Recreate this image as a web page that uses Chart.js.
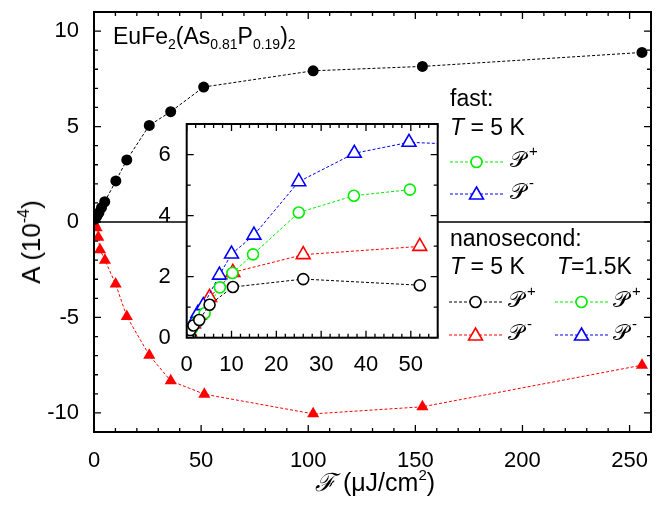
<!DOCTYPE html>
<html>
<head>
<meta charset="utf-8">
<script src="https://cdn.jsdelivr.net/npm/chart.js@4.4.1/dist/chart.umd.min.js"></script>
<style>
  body { margin: 0; background: #fff; }
  #wrap { position: relative; width: 658px; height: 511px; overflow: hidden;
          font-family: "Liberation Sans", Arial, sans-serif; color: #000; }
  canvas { position: absolute; }
  #main { left: 0; top: 0; }
  #inset { left: 130px; top: 110px; }
  .t { position: absolute; white-space: nowrap; line-height: 1; }
  .sub { font-size: 14px; position: relative; top: 5px; }
  .scr { font-family: "DejaVu Serif", "DejaVu Sans", serif; font-size: 22px; }
  .sup { font-size: 15px; position: relative; top: -11px; margin-left: 3px; }
</style>
</head>
<body>
<div id="wrap">
  <canvas id="main" width="658" height="511"></canvas>
  <canvas id="inset" width="320" height="280"></canvas>

  <div class="t" style="left:113px; top:25px; font-size:23px;">EuFe<span class="sub">2</span>(As<span class="sub">0.81</span>P<span class="sub">0.19</span>)<span class="sub">2</span></div>

  <div class="t" style="left:450px; top:87px; font-size:23px;">fast:</div>
  <div class="t" style="left:450px; top:116px; font-size:23px;"><i>T</i> = 5 K</div>
  <div class="t" style="left:510px; top:149px;"><span class="scr">𝒫</span><span class="sup">+</span></div>
  <div class="t" style="left:510px; top:181px;"><span class="scr">𝒫</span><span class="sup">-</span></div>

  <div class="t" style="left:450px; top:227px; font-size:23px;">nanosecond:</div>
  <div class="t" style="left:450px; top:255px; font-size:23px;"><i>T</i> = 5 K</div>
  <div class="t" style="left:557px; top:255px; font-size:23px;"><i>T</i>=1.5K</div>
  <div class="t" style="left:508px; top:289px;"><span class="scr">𝒫</span><span class="sup">+</span></div>
  <div class="t" style="left:508px; top:322px;"><span class="scr">𝒫</span><span class="sup">-</span></div>
  <div class="t" style="left:613px; top:289px;"><span class="scr">𝒫</span><span class="sup">+</span></div>
  <div class="t" style="left:613px; top:322px;"><span class="scr">𝒫</span><span class="sup">-</span></div>

  <div class="t" style="left:375px; top:470px; font-size:25px; transform:translateX(-50%);"><span style="font-family:'DejaVu Serif',serif;font-style:italic;">ℱ</span> (μJ/cm<span style="font-size:15px;position:relative;top:-11px;">2</span>)</div>
  <div class="t" style="left:31px; top:242px; font-size:26px; transform:translate(-50%,-50%) rotate(-90deg);">A (10<span style="font-size:16px;position:relative;top:-11px;">-4</span>)</div>
</div>

<script>
// Main panel: amplitude A (10^-4) versus fluence (uJ/cm^2)
const mainPosX = [0.5, 1.4, 2.3, 3.5, 5.0, 10.2, 15.3, 25.8, 35.8, 51.2, 102.3, 153.3, 255.8];
const mainPosY = [0.15, 0.31, 0.49, 0.75, 1.06, 2.15, 3.25, 5.06, 5.78, 7.07, 7.92, 8.15, 8.88];
const mainNegX = [0.3, 1.2, 2.0, 2.8, 5.1, 10.1, 15.3, 25.8, 35.8, 51.5, 102.3, 153.3, 255.8];
const mainNegY = [-0.1, -0.3, -0.8, -1.45, -2.0, -3.25, -4.95, -6.98, -8.32, -9.02, -10.05, -9.68, -7.5];
const mainXTicks = [0, 50, 100, 150, 200, 250];
const mainYTicks = [-10, -5, 0, 5, 10];

// Inset: low-fluence region
const ns5PlusX  = [0.3, 0.8, 1.5, 2.8, 5.1, 10.3, 26.0, 52.0];
const ns5PlusY  = [0.1, 0.25, 0.4, 0.58, 1.08, 1.66, 1.92, 1.72];
const ns5MinusX = [0.2, 0.6, 1.5, 2.8, 5.1, 10.3, 26.0, 52.0];
const ns5MinusY = [0.02, 0.2, 0.45, 0.74, 1.32, 2.14, 2.72, 2.99];
const ns15PlusX  = [0.5, 1.2, 2.5, 4.0, 7.4, 10.2, 14.8, 25.0, 37.3, 49.8];
const ns15PlusY  = [0.12, 0.3, 0.55, 0.8, 1.65, 2.12, 2.73, 4.1, 4.65, 4.85];
const ns15MinusX = [0.5, 1.5, 2.5, 3.7, 7.3, 10.0, 15.0, 25.0, 37.4, 49.6, 100];
const ns15MinusY = [0.15, 0.5, 0.8, 1.05, 2.05, 2.74, 3.36, 5.11, 6.04, 6.4, 6.1];
const insetXTicks = [0, 10, 20, 30, 40, 50];
const insetYTicks = [0, 2, 4, 6];

const pts = (xs, ys) => xs.map((x, i) => ({ x, y: ys[i] }));
const FONT = { family: '"Liberation Sans", Arial, sans-serif', size: 22 };

// Frame with inward major/minor ticks on all four sides
const frameTicks = {
  id: 'frameTicks',
  afterDraw(chart, args, o) {
    const { ctx, chartArea: a, scales: { x, y } } = chart;
    ctx.save();
    ctx.strokeStyle = '#000';
    ctx.lineWidth = 1.3;
    const run = (scale, step, major, horiz) => {
      const i0 = Math.ceil(scale.min / step - 1e-9), i1 = Math.floor(scale.max / step + 1e-9);
      for (let i = i0; i <= i1; i++) {
        const v = i * step;
        const len = Math.abs(v / major - Math.round(v / major)) < 1e-6 ? o.majorLen : o.minorLen;
        const p = scale.getPixelForValue(v);
        ctx.beginPath();
        if (horiz) {
          ctx.moveTo(p, a.bottom); ctx.lineTo(p, a.bottom - len);
          ctx.moveTo(p, a.top); ctx.lineTo(p, a.top + len);
        } else {
          ctx.moveTo(a.left, p); ctx.lineTo(a.left + len, p);
          ctx.moveTo(a.right, p); ctx.lineTo(a.right - len, p);
        }
        ctx.stroke();
      }
    };
    run(x, o.xMinor, o.xMajor, true);
    run(y, o.yMinor, o.yMajor, false);
    ctx.lineWidth = o.frameWidth;
    ctx.strokeRect(a.left, a.top, a.right - a.left, a.bottom - a.top);
    ctx.restore();
  }
};

// Horizontal reference line at A = 0
const zeroLine = {
  id: 'zeroLine',
  beforeDatasetsDraw(chart) {
    const { ctx, chartArea: a, scales: { y } } = chart;
    const p = y.getPixelForValue(0);
    ctx.save();
    ctx.strokeStyle = '#000'; ctx.lineWidth = 1.6;
    ctx.beginPath(); ctx.moveTo(a.left, p); ctx.lineTo(a.right, p); ctx.stroke();
    ctx.restore();
  }
};

// Legend key samples: dashed segment with an open marker
function drawMarker(ctx, style, cx, cy, r, color) {
  ctx.save();
  ctx.setLineDash([]);
  ctx.strokeStyle = color; ctx.fillStyle = '#fff'; ctx.lineWidth = 1.6;
  ctx.beginPath();
  if (style === 'circle') {
    ctx.arc(cx, cy, r, 0, Math.PI * 2);
  } else {
    const s = Math.sqrt(3) / 2;
    ctx.moveTo(cx, cy - r); ctx.lineTo(cx + r * s, cy + r / 2); ctx.lineTo(cx - r * s, cy + r / 2); ctx.closePath();
  }
  ctx.fill(); ctx.stroke();
  ctx.restore();
}
const legendKeys = {
  id: 'legendKeys',
  afterDraw(chart, args, o) {
    const ctx = chart.ctx;
    o.items.forEach(it => {
      ctx.save();
      ctx.strokeStyle = it.color; ctx.lineWidth = 1; ctx.setLineDash([3, 2]);
      ctx.beginPath(); ctx.moveTo(it.x1, it.y); ctx.lineTo(it.x2, it.y); ctx.stroke();
      ctx.restore();
      drawMarker(ctx, it.style, (it.x1 + it.x2) / 2, it.y + (it.style === 'circle' ? 0 : 1), it.style === 'circle' ? 5.5 : 8, it.color);
    });
  }
};

// White plotting area for the inset
const insetBg = {
  id: 'insetBg',
  beforeDraw(chart) {
    const { ctx, chartArea: a } = chart;
    ctx.save(); ctx.fillStyle = '#fff';
    ctx.fillRect(a.left, a.top, a.right - a.left, a.bottom - a.top);
    ctx.restore();
  }
};

// Fixed axis sizes, no extra label padding around the plotting area
const fixX = h => s => { s.height = h; s.paddingLeft = 0; s.paddingRight = 0; };
const fixY = w => s => { s.width = w; s.paddingTop = 0; s.paddingBottom = 0; };

const dashed = { showLine: true, borderWidth: 1, borderDash: [3, 2] };

new Chart(document.getElementById('main'), {
  type: 'scatter',
  data: {
    datasets: [
      { ...dashed, data: pts(mainPosX, mainPosY), borderColor: '#000', backgroundColor: '#000',
        pointStyle: 'circle', pointRadius: 5.5, pointBorderWidth: 0 },
      { ...dashed, data: pts(mainNegX, mainNegY), borderColor: '#ff0000', backgroundColor: '#ff0000',
        pointStyle: 'triangle', pointRadius: 7, pointBorderWidth: 0 }
    ]
  },
  options: {
    responsive: false, animation: false, devicePixelRatio: 1,
    layout: { padding: { top: 12, right: 1, left: 0, bottom: 0 } },
    plugins: {
      legend: { display: false }, tooltip: { enabled: false },
      frameTicks: { xMinor: 10, xMajor: 50, yMinor: 1, yMajor: 5, majorLen: 7, minorLen: 4, frameWidth: 2 },
      legendKeys: { items: [
        { x1: 450, x2: 503, y: 162, color: '#00ee00', style: 'circle' },
        { x1: 450, x2: 503, y: 194, color: '#0000ff', style: 'triangle' },
        { x1: 449, x2: 502, y: 302, color: '#000', style: 'circle' },
        { x1: 449, x2: 502, y: 335, color: '#ff0000', style: 'triangle' },
        { x1: 555, x2: 608, y: 302, color: '#00ee00', style: 'circle' },
        { x1: 555, x2: 608, y: 335, color: '#0000ff', style: 'triangle' }
      ] }
    },
    scales: {
      x: {
        type: 'linear', min: 0, max: 260,
        afterBuildTicks: s => { s.ticks = mainXTicks.map(v => ({ value: v })); },
        afterFit: fixX(79),
        grid: { display: false }, border: { display: false },
        ticks: { font: FONT, color: '#000', padding: 8, maxRotation: 0 }
      },
      y: {
        type: 'linear', min: -11, max: 11,
        afterBuildTicks: s => { s.ticks = mainYTicks.map(v => ({ value: v })); },
        afterFit: fixY(94),
        grid: { display: false }, border: { display: false },
        ticks: { font: FONT, color: '#000', padding: 7 }
      }
    }
  },
  plugins: [zeroLine, frameTicks, legendKeys]
});

const openSet = (xs, ys, color, style) => ({
  ...dashed, data: pts(xs, ys), borderColor: color, backgroundColor: '#fff',
  pointBorderColor: color, pointBorderWidth: 1.6, pointStyle: style,
  pointRadius: style === 'circle' ? 5.5 : 8
});

new Chart(document.getElementById('inset'), {
  type: 'scatter',
  data: {
    datasets: [
      openSet(ns5PlusX, ns5PlusY, '#000', 'circle'),
      openSet(ns15PlusX, ns15PlusY, '#00ee00', 'circle'),
      openSet(ns15MinusX, ns15MinusY, '#0000ff', 'triangle'),
      openSet(ns5MinusX, ns5MinusY, '#ff0000', 'triangle')
    ]
  },
  options: {
    responsive: false, animation: false, devicePixelRatio: 1,
    layout: { padding: { top: 14, right: 12.3, left: 0, bottom: 0 } },
    plugins: {
      legend: { display: false }, tooltip: { enabled: false },
      frameTicks: { xMinor: 2, xMajor: 10, yMinor: 1, yMajor: 2, majorLen: 7, minorLen: 4, frameWidth: 2 }
    },
    scales: {
      x: {
        type: 'linear', min: 0, max: 56,
        afterBuildTicks: s => { s.ticks = insetXTicks.map(v => ({ value: v })); },
        afterFit: fixX(52.3),
        grid: { display: false }, border: { display: false },
        ticks: { font: FONT, color: '#000', padding: 6, maxRotation: 0 }
      },
      y: {
        type: 'linear', min: 0, max: 7,
        afterBuildTicks: s => { s.ticks = insetYTicks.map(v => ({ value: v })); },
        afterFit: fixY(56.7),
        grid: { display: false }, border: { display: false },
        ticks: { font: FONT, color: '#000', padding: 8 }
      }
    }
  },
  plugins: [insetBg, frameTicks]
});
</script>
</body>
</html>
